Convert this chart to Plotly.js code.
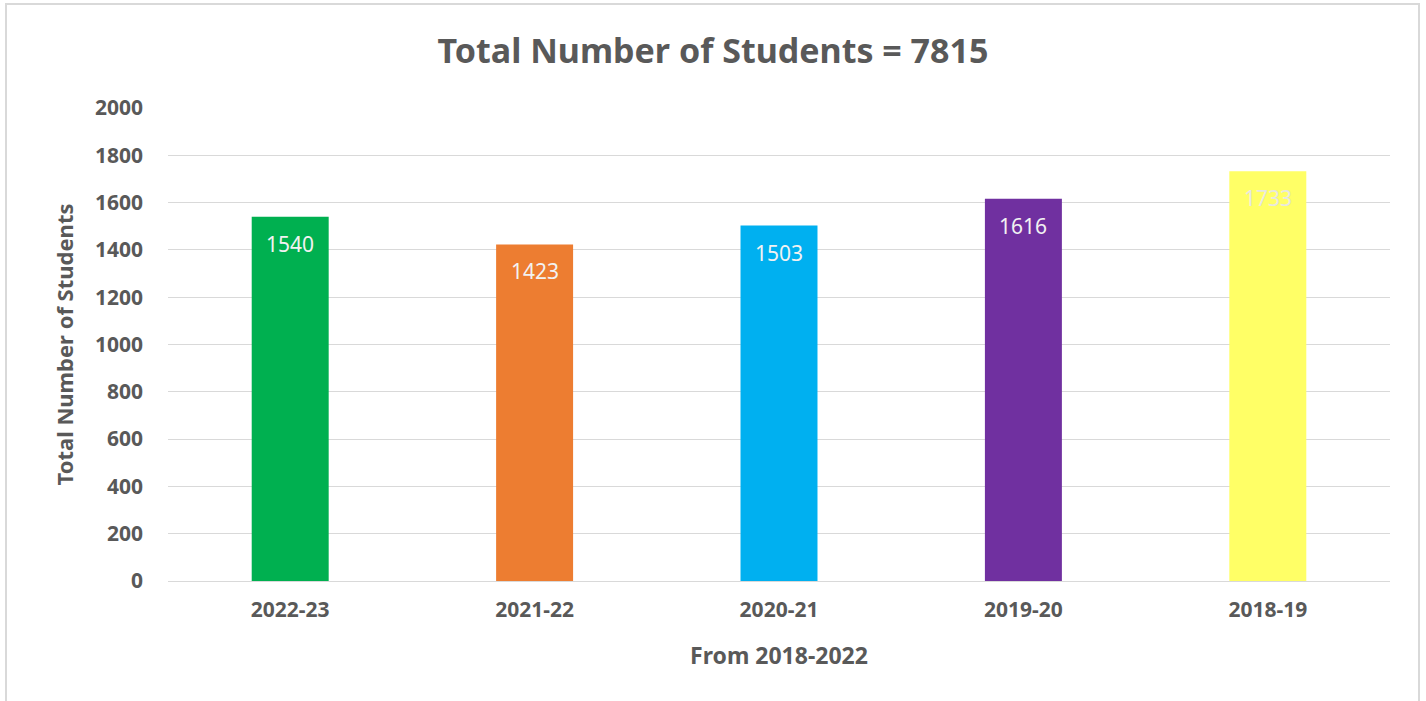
<!DOCTYPE html>
<html>
<head>
<meta charset="utf-8">
<script src="https://cdn.plot.ly/plotly-3.0.1.min.js"></script>
<style>html,body{margin:0;padding:0;background:#fff;}#chart{width:1426px;height:701px;}</style>
</head>
<body>
<div id="chart"></div>
<script>
var years = ["2022-23", "2021-22", "2020-21", "2019-20", "2018-19"];
var students = [1540, 1423, 1503, 1616, 1733];
var barColors = ["#00b050", "#ed7d31", "#00b0f0", "#7030a0", "#ffff66"];
var labelColors = ["#f2f2f2", "#f2f2f2", "#f2f2f2", "#f2f2f2", "#e8e8e0"];
var yTicks = [0, 200, 400, 600, 800, 1000, 1200, 1400, 1600, 1800, 2000];
var total = students.reduce(function(a, b){ return a + b; }, 0);

var FONT = "Noto Sans, Open Sans, sans-serif";

var trace = {
  type: "bar",
  x: years,
  y: students,
  width: 0.315,
  marker: {color: barColors},
  hoverinfo: "x+y"
};

var annotations = years.map(function(yr, i){
  return {
    x: yr, y: students[i], xref: "x", yref: "y",
    text: String(students[i]), showarrow: false,
    yanchor: "middle", yshift: -27,
    font: {family: FONT, size: 21, color: labelColors[i]}
  };
});

var W = 1222, H = 473;
var layout = {
  width: 1426, height: 701,
  paper_bgcolor: "#ffffff", plot_bgcolor: "#ffffff",
  margin: {l: 168, r: 36, t: 108, b: 120},
  showlegend: false,
  title: {
    text: "Total Number of Students = " + total,
    font: {family: FONT, size: 34, color: "#595959", weight: "bold"},
    x: 0.5, xanchor: "center", y: 1 - 51/701, yanchor: "middle", yref: "container"
  },
  xaxis: {
    type: "category",
    showgrid: false, showline: false, zeroline: false, ticks: "",
    ticklabelstandoff: 14,
    tickfont: {family: FONT, size: 21, color: "#595959", weight: "bold"},
    title: {text: "From 2018-2022", standoff: 25,
      font: {family: FONT, size: 23, color: "#595959", weight: "bold"}}
  },
  yaxis: {
    range: [0, 2000],
    tickvals: yTicks,
    ticktext: yTicks.map(String),
    showgrid: true, gridcolor: "#d9d9d9", gridwidth: 1,
    zeroline: true, zerolinecolor: "#d9d9d9", zerolinewidth: 1,
    showline: false, ticks: "", ticklabelstandoff: 24,
    tickfont: {family: FONT, size: 21, color: "#595959", weight: "bold"},
    title: {text: "Total Number of Students", standoff: 15,
      font: {family: FONT, size: 22, color: "#595959", weight: "bold"}}
  },
  annotations: annotations,
  shapes: [{
    type: "rect", xref: "paper", yref: "paper",
    x0: (6 - 168)/W, x1: (1419 - 168)/W, y0: (581 - 702)/H, y1: (581 - 4)/H,
    line: {color: "#d9d9d9", width: 2}, fillcolor: "rgba(0,0,0,0)", layer: "below"
  }]
};

Plotly.newPlot("chart", [trace], layout, {displayModeBar: false, staticPlot: true});
</script>
</body>
</html>
